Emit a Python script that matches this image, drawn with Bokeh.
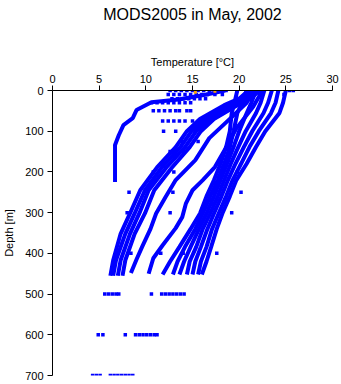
from bokeh.plotting import figure
from bokeh.models import Range1d, FixedTicker, LinearAxis
from bokeh.embed import file_html
from bokeh.resources import INLINE

# ---- data ----
x_ticks = [0, 5, 10, 15, 20, 25, 30]
y_ticks = [0, 100, 200, 300, 400, 500, 600, 700]
title_text = "MODS2005 in May, 2002"

# shallow profile ending at 225 m
prof_a_t = [18.5, 16.5, 13.5, 10.6, 9.0, 8.6, 7.6, 7.1, 6.7, 6.7]
prof_a_d = [0, 10, 22, 29, 48, 68, 85, 110, 134, 225]

# cold bundle
bundle_d = [0, 20, 36, 70, 100, 139, 189, 245, 302, 352, 417, 455]
prof_b1_t = [21.0, 20.0, 18.4, 15.8, 14.4, 13.2, 11.2, 9.4, 8.3, 7.3, 6.5, 6.2]
prof_b2_t = [21.4, 20.4, 18.9, 16.3, 14.9, 13.7, 11.7, 9.9, 8.8, 7.8, 6.8, 6.5]
prof_b3_t = [21.8, 20.8, 19.3, 16.8, 15.4, 14.2, 12.2, 10.3, 9.3, 8.3, 7.3, 7.0]
prof_b4_t = [22.2, 21.2, 19.8, 17.3, 15.9, 14.7, 12.8, 10.9, 9.9, 8.8, 7.8, 7.5]

# intermediate profiles
prof_c_d = [0, 30, 61, 117, 171, 220, 262, 302, 340, 384, 415, 448]
prof_c_t = [21.5, 20.8, 19.4, 16.8, 15.3, 13.2, 12.1, 11.1, 10.5, 9.6, 9.0, 8.4]
prof_e_d = [0, 40, 93, 140, 188, 220, 245, 277, 311, 338, 380, 412, 450]
prof_e_t = [22.5, 21.5, 19.7, 18.6, 17.4, 16.1, 15.0, 14.3, 13.9, 13.2, 11.8, 10.8, 10.3]

# warm bundle
warm_d = [0, 30, 56, 100, 139, 180, 220, 260, 302, 340, 384, 420, 452]
prof_r1_t = [19.8, 19.5, 19.2, 19.0, 18.6, 18.0, 17.3, 16.5, 15.8, 14.8, 13.6, 12.6, 11.8]
prof_r2_t = [20.8, 20.3, 19.8, 19.4, 19.0, 18.4, 17.7, 16.9, 16.1, 15.3, 14.2, 13.4, 12.9]
prof_r3_t = [21.8, 21.3, 20.8, 20.0, 19.4, 18.7, 18.0, 17.3, 16.5, 15.7, 14.8, 14.1, 13.6]
prof_r4_t = [22.7, 22.3, 21.8, 20.7, 19.9, 19.1, 18.4, 17.7, 16.9, 16.1, 15.4, 14.7, 14.4]
prof_r5_t = [23.5, 23.1, 22.6, 21.4, 20.5, 19.6, 18.8, 18.1, 17.3, 16.6, 15.9, 15.3, 15.0]
prof_r6_t = [24.2, 23.9, 23.4, 22.1, 21.1, 20.2, 19.3, 18.6, 17.8, 17.1, 16.5, 15.9, 15.6]
prof_r7_t = [25.0, 24.7, 24.3, 22.8, 21.8, 20.8, 19.7, 19.0, 18.2, 17.6, 17.0, 16.5, 16.0]

# standard-level bottle samples
lvl0_t = [12.6, 13.2, 13.8, 14.4, 15.0, 15.6, 16.2, 16.8, 17.4, 18.0, 18.6, 25.4, 25.8]
lvl10_t = [12.4, 13.0, 13.6, 14.2, 14.8, 15.4, 16.0, 16.6, 17.4, 18.2, 24.8]
lvl20_t = [12.8, 13.4, 14.0, 14.6, 15.2, 15.8, 16.4]
lvl30_t = [10.6, 11.2, 11.8, 12.4, 13.0, 13.6, 14.2, 14.8]
lvl50_t = [10.8, 11.4, 12.0, 12.6, 13.2, 13.6, 14.4, 14.8]
lvl75_t = [11.8, 12.4, 13.0, 13.6, 14.2, 15.0, 15.8]
lvl100_t = [11.9, 13.2]
lvl125_t = [13.8, 15.6]
lvl150_t = [14.0, 12.6]
lvl200_t = [13.0, 10.8, 19.8]
lvl250_t = [12.9, 8.2, 20.2]
lvl300_t = [8.0, 12.6, 19.2]
lvl400_t = [8.4, 11.6, 17.6, 14.0]
lvl500_t = [5.6, 6.0, 6.4, 6.8, 7.1, 10.6, 11.7, 12.1, 12.5, 12.9, 13.3, 13.7, 14.1]
lvl600_t = [4.9, 5.4, 7.8, 8.9, 9.3, 9.7, 10.1, 10.5, 10.9, 11.2]
lvl700_t = [4.3, 4.7, 5.1, 6.2, 6.6, 7.0, 7.4, 7.8, 8.2, 8.6]

flag_t = [15.3, 17.4]
flag_d = [4, 2]

BLUE = "#0000FF"
FONT = "Liberation Sans"

p = figure(width=340, height=383, output_backend="svg", toolbar_location=None,
           x_axis_location="above",
           x_range=Range1d(0, 30), y_range=Range1d(700, 0),
           min_border_left=48, min_border_right=8, min_border_top=90, min_border_bottom=8)

p.outline_line_color = None
p.grid.visible = False
p.background_fill_color = "white"
p.border_fill_color = "white"

for ax in (p.xaxis[0], p.yaxis[0]):
    ax.major_tick_in = 0
    ax.major_tick_out = 5
    ax.minor_tick_in = 0
    ax.minor_tick_out = 0
    ax.axis_line_color = "black"
    ax.major_tick_line_color = "black"
    ax.major_label_text_font = FONT
    ax.major_label_text_font_size = "11px"
    ax.major_label_text_color = "black"
    ax.axis_label_text_font = FONT
    ax.axis_label_text_font_size = "11px"
    ax.axis_label_text_font_style = "normal"
    ax.axis_label_text_color = "black"

p.xaxis.ticker = FixedTicker(ticks=x_ticks)
p.yaxis.ticker = FixedTicker(ticks=y_ticks)
p.xaxis.axis_label = "Temperature [°C]"
p.yaxis.axis_label = "Depth [m]"
p.xaxis.major_label_standoff = 3
p.xaxis.axis_label_standoff = 4
p.yaxis.major_label_standoff = 4
p.yaxis.axis_label_standoff = 7

# title carried by an outer, tick-less axis so it can sit at the top edge
title_axis = LinearAxis(ticker=FixedTicker(ticks=[]), axis_label=title_text,
                        axis_line_color=None, major_tick_line_color=None,
                        minor_tick_line_color=None, major_tick_in=0, major_tick_out=0,
                        minor_tick_in=0, minor_tick_out=0, major_label_standoff=0,
                        axis_label_standoff=30, axis_label_text_font=FONT,
                        axis_label_text_font_size="16px", axis_label_text_font_style="normal",
                        axis_label_text_color="black")
p.add_layout(title_axis, "above")

xs = [prof_a_t, prof_b1_t, prof_b2_t, prof_b3_t, prof_b4_t, prof_c_t, prof_e_t,
      prof_r1_t, prof_r2_t, prof_r3_t, prof_r4_t, prof_r5_t, prof_r6_t, prof_r7_t]
ys = [prof_a_d, bundle_d, bundle_d, bundle_d, bundle_d, prof_c_d, prof_e_d,
      warm_d, warm_d, warm_d, warm_d, warm_d, warm_d, warm_d]
p.multi_line(xs=xs, ys=ys, line_color=BLUE, line_width=4)

levels = [(0, lvl0_t), (10, lvl10_t), (20, lvl20_t), (30, lvl30_t), (50, lvl50_t),
          (75, lvl75_t), (100, lvl100_t), (125, lvl125_t), (150, lvl150_t),
          (200, lvl200_t), (250, lvl250_t), (300, lvl300_t), (400, lvl400_t),
          (500, lvl500_t), (600, lvl600_t), (700, lvl700_t)]
st = []
sd = []
for d, ts in levels:
    st.extend(ts)
    sd.extend([d] * len(ts))
p.scatter(x=st, y=sd, marker="square", size=3.5, fill_color=BLUE, line_color=None)
p.scatter(x=flag_t, y=flag_d, marker="square", size=3, fill_color="#FFA500", line_color=None)

open("out.html", "w").write(file_html(p, INLINE))
